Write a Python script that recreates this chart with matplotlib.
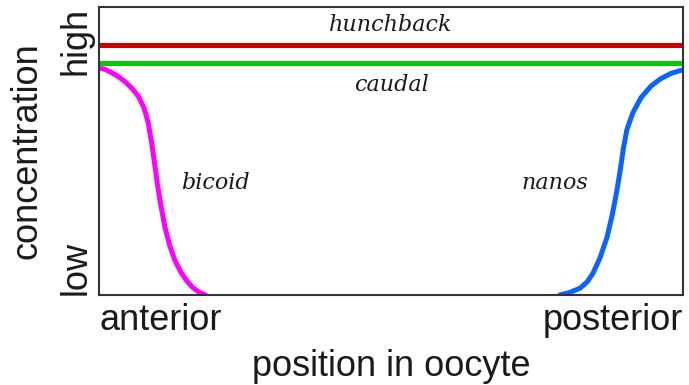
import numpy as np
import matplotlib.pyplot as plt

# positions along oocyte (0 = anterior, 1 = posterior), concentrations 0..1
hunchback_level = 0.868
caudal_level = 0.806

bicoid_x = [0.0, 0.010, 0.020, 0.032, 0.045, 0.058, 0.068, 0.077, 0.084, 0.090, 0.095, 0.100,
            0.106, 0.113, 0.121, 0.130, 0.140, 0.150, 0.160, 0.171, 0.182]
bicoid_y = [0.788, 0.784, 0.774, 0.760, 0.740, 0.714, 0.688, 0.650, 0.600, 0.530, 0.460, 0.385,
            0.310, 0.235, 0.172, 0.120, 0.080, 0.050, 0.027, 0.010, 0.0]

nanos_x = [0.789, 0.805, 0.824, 0.836, 0.846, 0.858, 0.870, 0.879, 0.887, 0.893, 0.898, 0.904,
           0.914, 0.928, 0.945, 0.961, 0.980, 0.998]
nanos_y = [0.0, 0.008, 0.024, 0.046, 0.076, 0.130, 0.201, 0.280, 0.365, 0.440, 0.510, 0.575,
           0.632, 0.685, 0.725, 0.750, 0.770, 0.781]

fig = plt.figure(figsize=(6.89, 3.85), dpi=100)
ax = fig.add_axes([0.1437, 0.2338, 0.8476, 0.748])

ax.axhline(hunchback_level, color='#cc0000', lw=3.6)
ax.axhline(caudal_level, color='#00cc00', lw=3.6)
ax.plot(bicoid_x, bicoid_y, color='#ff00ff', lw=3.6, solid_capstyle='round')
ax.plot(nanos_x, nanos_y, color='#0a64ff', lw=3.6, solid_capstyle='round')

tfont = dict(family='DejaVu Serif', style='italic', fontsize=16, color='#1a1a1a')
ax.text(0.5, 0.939, 'hunchback', ha='center', va='center', **tfont)
ax.text(0.5, 0.729, 'caudal', ha='center', va='center', **tfont)
ax.text(0.199, 0.389, 'bicoid', ha='center', va='center', **tfont)
ax.text(0.781, 0.389, 'nanos', ha='center', va='center', **tfont)

ax.set_xlim(0, 1)
ax.set_ylim(0, 1)

sfont = dict(family='Liberation Sans', fontsize=26, color='#1a1a1a')
ax.set_xticks([0, 1])
ax.set_xticklabels(['anterior', 'posterior'], **sfont)
xl = ax.get_xticklabels()
xl[0].set_ha('left')
xl[1].set_ha('right')
ax.set_yticks([0, 1])
ax.set_yticklabels(['low', 'high'], rotation=90, **sfont)
yl = ax.get_yticklabels()
yl[0].set_va('bottom')
yl[1].set_va('top')
ax.tick_params(length=0, pad=6)
ax.tick_params(axis='y', pad=4)

ax.set_xlabel('position in oocyte', labelpad=8, **sfont)
ax.set_ylabel('concentration', labelpad=10, **sfont)

for s in ax.spines.values():
    s.set_color('#333333')
    s.set_linewidth(1.5)

fig.savefig('out.png', dpi=100)
